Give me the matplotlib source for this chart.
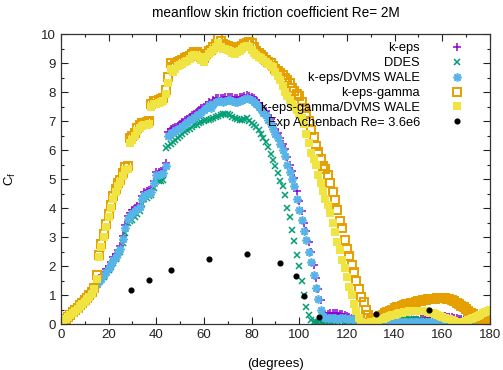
import matplotlib
matplotlib.use("Agg")
import matplotlib.pyplot as plt
import numpy as np

plt.rcParams['font.family'] = ['Liberation Sans', 'DejaVu Sans']

# angle grid, 1 degree steps
deg = np.arange(0, 181)

# k-eps/DVMS WALE
dvms = [0.0, 0.09, 0.18, 0.27, 0.36, 0.45, 0.54, 0.63, 0.72, 0.81,
        0.9, 0.99, 1.07, 1.16, 1.25, 1.4, 1.5, 1.57, 1.7, 1.8,
        1.92, 2.06, 2.2, 2.33, 2.47, 2.6, 2.95, 3.3, 3.64, 3.73,
        3.82, 3.9, 3.98, 4.05, 4.3, 4.45, 4.5, 4.53, 4.56, 4.85,
        5.14, 5.14, 5.17, 5.2, 5.45, 6.5, 6.6, 6.63, 6.68, 6.72,
        6.77, 6.83, 6.9, 6.96, 7.02, 7.08, 7.14, 7.2, 7.26, 7.32,
        7.38, 7.45, 7.55, 7.45, 7.6, 7.67, 7.68, 7.68, 7.67, 7.7,
        7.72, 7.72, 7.7, 7.67, 7.66, 7.7, 7.72, 7.75, 7.78, 7.75,
        7.72, 7.67, 7.6, 7.5, 7.4, 7.28, 7.2, 7.05, 6.9, 6.72,
        6.55, 6.4, 6.2, 6.0, 5.8, 5.5, 5.25, 5.0, 4.75, 4.3,
        3.95, 3.6, 3.2, 2.9, 2.5, 2.15, 1.7, 1.25, 0.85, 0.5,
        0.28, 0.22, 0.2, 0.2, 0.21, 0.2, 0.19, 0.2, 0.21, 0.2,
        0.19, 0.18, 0.17, 0.16, 0.15, 0.14, 0.12, 0.1, 0.09, 0.08,
        0.08, 0.07, 0.07, 0.07, 0.07, 0.07, 0.07, 0.07, 0.07, 0.07,
        0.07, 0.07, 0.07, 0.07, 0.07, 0.07, 0.07, 0.07, 0.07, 0.07,
        0.07, 0.07, 0.07, 0.07, 0.07, 0.07, 0.07, 0.07, 0.07, 0.07,
        0.07, 0.07, 0.07, 0.07, 0.07, 0.07, 0.07, 0.08, 0.09, 0.1,
        0.11, 0.12, 0.13, 0.14, 0.15, 0.16, 0.17, 0.18, 0.19, 0.2,
        0.2]

# k-eps
keps = [0.0, 0.09, 0.18, 0.28, 0.37, 0.46, 0.55, 0.64, 0.74, 0.83,
        0.92, 1.01, 1.1, 1.19, 1.3, 1.45, 1.58, 1.65, 1.78, 1.9,
        2.02, 2.15, 2.3, 2.43, 2.57, 2.7, 3.05, 3.4, 3.74, 3.83,
        3.92, 4.0, 4.08, 4.15, 4.4, 4.55, 4.6, 4.63, 4.66, 4.95,
        5.24, 5.24, 5.27, 5.3, 5.55, 6.62, 6.72, 6.75, 6.8, 6.84,
        6.9, 6.96, 7.02, 7.08, 7.14, 7.2, 7.26, 7.32, 7.38, 7.44,
        7.5, 7.57, 7.67, 7.57, 7.72, 7.8, 7.8, 7.8, 7.79, 7.82,
        7.84, 7.84, 7.82, 7.79, 7.78, 7.82, 7.84, 7.87, 7.9, 7.87,
        7.84, 7.79, 7.72, 7.63, 7.53, 7.42, 7.35, 7.2, 7.06, 6.9,
        6.73, 6.58, 6.4, 6.22, 6.02, 5.75, 5.5, 5.27, 5.02, 4.6,
        4.25, 3.9, 3.5, 3.2, 2.82, 2.47, 2.05, 1.6, 1.2, 0.82,
        0.4, 0.36, 0.36, 0.37, 0.37, 0.37, 0.37, 0.36, 0.35, 0.32,
        0.28, 0.25, 0.22, 0.19, 0.16, 0.14, 0.12, 0.1, 0.09, 0.08,
        0.08, 0.08, 0.08, 0.08, 0.08, 0.08, 0.08, 0.08, 0.08, 0.08,
        0.08, 0.08, 0.08, 0.09, 0.1, 0.11, 0.12, 0.12, 0.13, 0.14,
        0.15, 0.17, 0.19, 0.21, 0.23, 0.24, 0.25, 0.26, 0.27, 0.27,
        0.27, 0.27, 0.26, 0.25, 0.24, 0.22, 0.2, 0.18, 0.16, 0.15,
        0.14, 0.13, 0.12, 0.11, 0.1, 0.1, 0.1, 0.1, 0.1, 0.1,
        0.1]

# DDES
ddes = [0.0, 0.09, 0.17, 0.26, 0.35, 0.44, 0.52, 0.61, 0.7, 0.78,
        0.87, 0.96, 1.04, 1.13, 1.22, 1.35, 1.45, 1.52, 1.62, 1.75,
        1.85, 1.98, 2.12, 2.25, 2.38, 2.5, 2.8, 3.15, 3.5, 3.55,
        3.6, 3.7, 3.8, 3.9, 4.15, 4.3, 4.35, 4.4, 4.45, 4.7,
        4.95, 4.95, 4.95, 4.97, 6.06, 6.15, 6.22, 6.29, 6.36, 6.43,
        6.5, 6.56, 6.62, 6.68, 6.74, 6.8, 6.85, 6.88, 6.92, 6.96,
        7.0, 7.03, 7.05, 7.08, 7.1, 7.14, 7.18, 7.21, 7.24, 7.26,
        7.26, 7.2, 7.14, 7.09, 7.06, 7.04, 7.03, 7.06, 7.09, 7.0,
        6.92, 6.86, 6.78, 6.68, 6.57, 6.43, 6.29, 6.1, 5.85, 5.66,
        5.45, 5.2, 4.95, 4.75, 4.45, 4.0, 3.7, 3.25, 2.85, 2.4,
        2.0, 1.5, 1.0, 0.6, 0.3, 0.14, 0.08, 0.06, 0.06, 0.06,
        0.07, 0.08, 0.09, 0.1, 0.11, 0.12, 0.13, 0.13, 0.12, 0.1,
        0.08, 0.07, 0.06, 0.06, 0.06, 0.06, 0.06, 0.06, 0.06, 0.07,
        0.07, 0.08, 0.08, 0.09, 0.09, 0.1, 0.1, 0.11, 0.12, 0.13,
        0.14, 0.15, 0.16, 0.17, 0.18, 0.18, 0.18, 0.17, 0.16, 0.15,
        0.14, 0.13, 0.12, 0.11, 0.1, 0.09, 0.08, 0.08, 0.07, 0.07,
        0.07, 0.07, 0.07, 0.08, 0.08, 0.09, 0.1, 0.11, 0.12, 0.13,
        0.14, 0.15, 0.16, 0.17, 0.17, 0.17, 0.16, 0.15, 0.14, 0.13,
        0.12]

# k-eps-gamma
gamma = [0.0, 0.08, 0.17, 0.25, 0.33, 0.41, 0.49, 0.57, 0.65, 0.73,
         0.82, 0.91, 1.0, 1.1, 1.25, 1.7, 2.4, 2.75, 3.1, 3.45,
         3.8, 4.1, 4.4, 4.65, 4.85, 4.97, 5.2, 5.4, 5.45, 6.4,
         6.5, 6.6, 6.75, 6.85, 6.92, 6.95, 6.98, 7.0, 7.6, 7.68,
         7.7, 7.72, 7.75, 7.78, 8.07, 8.53, 8.99, 8.85, 8.93, 9.05,
         9.08, 9.1, 9.16, 9.2, 9.24, 9.3, 9.38, 9.39, 9.3, 9.2,
         9.16, 9.3, 9.4, 9.45, 9.55, 9.65, 9.88, 9.75, 9.65, 9.62,
         9.6, 9.55, 9.5, 9.45, 9.5, 9.55, 9.6, 9.65, 9.7, 9.73,
         9.7, 9.55, 9.4, 9.33, 9.28, 9.22, 9.12, 9.05, 8.99, 8.9,
         8.8, 8.72, 8.66, 8.6, 8.5, 8.4, 8.3, 8.15, 8.05, 7.95,
         7.85, 7.67, 7.45, 7.26, 7.0, 6.7, 6.45, 6.15, 5.95, 5.7,
         5.45, 5.35, 5.14, 4.85, 4.54, 4.28, 3.95, 3.55, 3.3, 2.9,
         2.6, 2.35, 2.03, 1.8, 1.5, 1.2, 0.95, 0.75, 0.5, 0.3,
         0.15, 0.1, 0.15, 0.22, 0.28, 0.33, 0.38, 0.42, 0.46, 0.5,
         0.55, 0.58, 0.6, 0.63, 0.66, 0.68, 0.7, 0.72, 0.74, 0.76,
         0.78, 0.8, 0.82, 0.83, 0.85, 0.86, 0.87, 0.88, 0.89, 0.9,
         0.9, 0.89, 0.88, 0.86, 0.83, 0.79, 0.74, 0.69, 0.64, 0.58,
         0.52, 0.46, 0.4, 0.34, 0.28, 0.23, 0.18, 0.14, 0.1, 0.07,
         0.05]

# k-eps-gamma/DVMS WALE
gdvms = [0.0, 0.08, 0.16, 0.24, 0.31, 0.38, 0.45, 0.53, 0.61, 0.69,
         0.77, 0.86, 0.95, 1.05, 1.2, 1.55, 2.3, 2.65, 3.0, 3.35,
         3.7, 4.0, 4.3, 4.55, 4.75, 4.9, 5.1, 5.3, 5.35, 6.25,
         6.35, 6.5, 6.65, 6.75, 6.82, 6.85, 6.88, 6.9, 7.5, 7.58,
         7.6, 7.62, 7.65, 7.68, 7.95, 8.3, 8.8, 8.7, 8.78, 8.9,
         8.92, 8.98, 9.05, 9.08, 9.15, 9.25, 9.28, 9.25, 9.2, 9.1,
         9.05, 9.2, 9.3, 9.38, 9.45, 9.55, 9.7, 9.55, 9.5, 9.48,
         9.45, 9.4, 9.35, 9.32, 9.38, 9.42, 9.48, 9.55, 9.6, 9.55,
         9.45, 9.35, 9.28, 9.22, 9.18, 9.1, 9.02, 8.95, 8.9, 8.85,
         8.7, 8.55, 8.4, 8.2, 8.0, 7.85, 7.72, 7.6, 7.5, 7.38,
         7.26, 7.1, 6.9, 6.57, 6.23, 5.89, 5.7, 5.48, 5.14, 4.85,
         4.6, 4.3, 4.1, 3.82, 3.47, 3.18, 2.84, 2.55, 2.2, 1.92,
         1.63, 1.29, 1.0, 0.71, 0.46, 0.2, 0.08, 0.05, 0.05, 0.05,
         0.06, 0.08, 0.1, 0.13, 0.16, 0.19, 0.22, 0.25, 0.28, 0.31,
         0.33, 0.35, 0.37, 0.39, 0.41, 0.43, 0.44, 0.45, 0.46, 0.46,
         0.46, 0.46, 0.45, 0.44, 0.42, 0.4, 0.37, 0.34, 0.31, 0.28,
         0.25, 0.22, 0.19, 0.16, 0.13, 0.1, 0.08, 0.07, 0.07, 0.08,
         0.1, 0.13, 0.17, 0.21, 0.25, 0.29, 0.33, 0.37, 0.41, 0.44,
         0.47]

# Exp Achenbach Re= 3.6e6
exp_x = [29.6, 36.9, 46.4, 62.1, 77.9, 91.9, 98.5, 102.1, 108.3, 132.2, 154.4]
exp_y = [1.17, 1.52, 1.86, 2.26, 2.43, 2.09, 1.66, 0.97, 0.25, 0.34, 0.48]

fig = plt.figure(figsize=(5.03, 3.70), dpi=100)
ax = fig.add_axes([0.121, 0.124, 0.853, 0.784])

ax.plot(deg, keps, ls='none', marker='+', ms=6, mew=1.1, color='#9400D3', label='k-eps')
ax.plot(deg, ddes, ls='none', marker='x', ms=4.8, mew=1.1, color='#009E73', label='DDES')
ax.plot(deg, dvms, ls='none', marker=(8, 2, 0), ms=6, mew=1.2, color='#56B4E9', label='k-eps/DVMS WALE')
ax.plot(deg, gamma, ls='none', marker='s', ms=5.4, mew=1.4, mfc='none', color='#E69F00', label='k-eps-gamma')
ax.plot(deg, gdvms, ls='none', marker='s', ms=5.8, mew=0, color='#F0E442', label='k-eps-gamma/DVMS WALE')
ax.plot(exp_x, exp_y, ls='none', marker='o', ms=3.4, color='black', label='Exp Achenbach Re= 3.6e6')

ax.set_xlim(0, 180)
ax.set_ylim(0, 10)
ax.set_xticks(np.arange(0, 181, 20))
ax.set_xticks(np.arange(0, 181, 10), minor=True)
ax.set_yticks(np.arange(0, 11, 1))
ax.set_yticks(np.arange(0, 10.1, 0.5), minor=True)
ax.tick_params(which='both', direction='in', top=True, right=True, labelsize=9.5, colors='#222222')
ax.tick_params(which='major', length=5, width=0.8)
ax.tick_params(which='minor', length=2.5, width=0.8)
for s in ax.spines.values():
    s.set_color('#333333')
    s.set_linewidth(0.9)

ax.set_title('meanflow skin friction coefficient Re= 2M', fontsize=9.8, pad=12)
ax.set_xlabel('(degrees)', fontsize=9.5, labelpad=12)
ax.set_ylabel('C$_\\mathregular{f}$', fontsize=9.5)
ax.yaxis.set_label_coords(-0.10, 0.5)

leg = ax.legend(loc='upper right', bbox_to_anchor=(0.965, 0.98), frameon=False,
                markerfirst=False, numpoints=1, fontsize=9.3, handlelength=2.4,
                handletextpad=1.67, labelspacing=0.22, borderpad=0.2, borderaxespad=0)

fig.savefig('out.png', dpi=100)
